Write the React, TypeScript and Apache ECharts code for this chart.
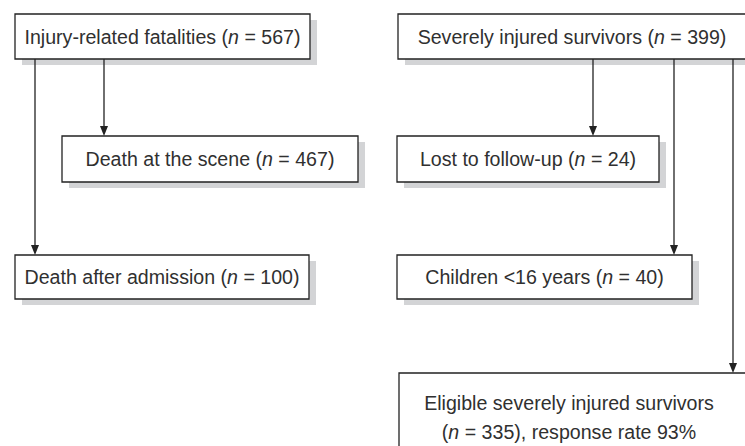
import React, { useEffect, useRef } from "react";
import * as echarts from "echarts";

// ---- data ----
const labels = [
  "Injury-related fatalities",
  "Death at the scene",
  "Death after admission",
  "Severely injured survivors",
  "Lost to follow-up",
  "Children <16 years",
  "Eligible severely injured survivors",
];
const counts = [567, 467, 100, 399, 24, 40, 335];
const responseRate = 93;

// ---- layout (pixels) ----
const boxes = [
  { x: 15, y: 14, w: 295, h: 45 },
  { x: 62, y: 136, w: 296, h: 46 },
  { x: 15, y: 255, w: 294, h: 44 },
  { x: 398, y: 14, w: 360, h: 45, tx: 572 },
  { x: 397, y: 136, w: 262, h: 46 },
  { x: 397, y: 255, w: 295, h: 44 },
  { x: 399, y: 373, w: 370, h: 100, tx: 569 },
];
// connectors: [x, y1, y2]
const connectors = [
  [104, 59, 136],
  [35, 59, 255],
  [593, 59, 136],
  [674, 59, 255],
  [733, 59, 373],
];

const FONT = '"Liberation Sans Narrow", "Liberation Sans", Arial, sans-serif';
const FS = 19.6;
const LINE = "#222";
const SHADOW = "#d3d4d6";
const TEXT = "#303030";

export default function App() {
  const ref = useRef<HTMLDivElement>(null);
  useEffect(() => {
    document.body.style.margin = "0";
    const chart = echarts.init(ref.current!, null, { renderer: "svg" });
    const elements: any[] = [];
    const rich = {
      i: { fontStyle: "italic", fontFamily: FONT, fontSize: FS, fill: TEXT },
    };
    // shadows
    boxes.forEach((b) => {
      elements.push({
        type: "rect",
        shape: { x: b.x + 7, y: b.y + 6, width: b.w, height: b.h },
        style: { fill: SHADOW },
        z: 1,
      });
    });
    boxes.forEach((b, i) => {
      elements.push({
        type: "rect",
        shape: { x: b.x, y: b.y, width: b.w, height: b.h },
        style: { fill: "#fff", stroke: LINE, lineWidth: 1.3 },
        z: 2,
      });
      const cx = (b as any).tx ?? b.x + b.w / 2;
      if (i === 6) {
        elements.push({
          type: "text",
          x: cx,
          y: 403,
          style: {
            text: labels[i],
            fontFamily: FONT,
            fontSize: FS,
            fill: TEXT,
            align: "center",
            verticalAlign: "middle",
          },
          z: 3,
        });
        elements.push({
          type: "text",
          x: cx,
          y: 432,
          style: {
            text: `({i|n} = ${counts[i]}), response rate ${responseRate}%`,
            rich,
            fontFamily: FONT,
            fontSize: FS,
            fill: TEXT,
            align: "center",
            verticalAlign: "middle",
          },
          z: 3,
        });
      } else {
        elements.push({
          type: "text",
          x: cx,
          y: b.y + b.h / 2,
          style: {
            text: `${labels[i]} ({i|n} = ${counts[i]})`,
            rich,
            fontFamily: FONT,
            fontSize: FS,
            fill: TEXT,
            align: "center",
            verticalAlign: "middle",
          },
          z: 3,
        });
      }
    });
    connectors.forEach(([x, y1, y2]) => {
      elements.push({
        type: "line",
        shape: { x1: x, y1, x2: x, y2: y2 - 8 },
        style: { stroke: LINE, lineWidth: 1.3 },
        z: 4,
      });
      elements.push({
        type: "polygon",
        shape: { points: [[x - 4, y2 - 10], [x + 4, y2 - 10], [x, y2]] },
        style: { fill: LINE },
        z: 4,
      });
    });
    chart.setOption({
      animation: false,
      backgroundColor: "#fff",
      graphic: { elements },
    });
    return () => chart.dispose();
  }, []);
  return <div ref={ref} style={{ width: 745, height: 446 }} />;
}
